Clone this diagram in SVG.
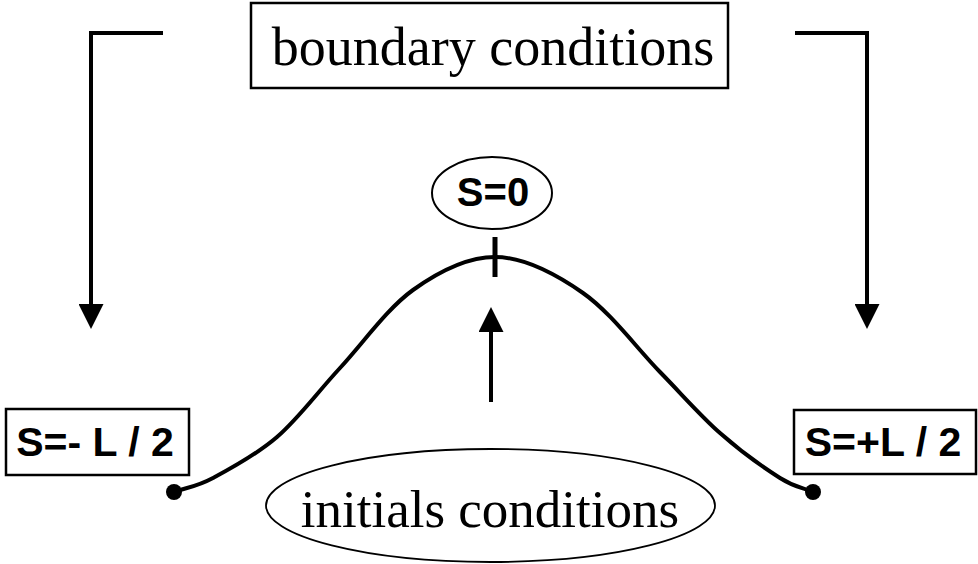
<svg xmlns="http://www.w3.org/2000/svg" width="978" height="564" viewBox="0 0 978 564">
  <style>
    .serif { font-family: "Liberation Serif", "Times New Roman", serif; fill: #000; }
    .sans { font-family: "Liberation Sans", Arial, sans-serif; font-weight: bold; fill: #000; }
    .box { fill: #fff; stroke: #000; stroke-width: 2.5; }
    .line { fill: none; stroke: #000; stroke-width: 4; }
  </style>
  <defs>
    <marker id="arrow" viewBox="0 0 25 25" refX="0" refY="12.5" markerWidth="25" markerHeight="25" markerUnits="userSpaceOnUse" orient="auto">
      <path d="M0,0 L25,12.5 L0,25 Z" fill="#000"/>
    </marker>
  </defs>

  <g id="connectors">
    <path class="line" d="M163,33 L91,33 L91,304" marker-end="url(#arrow)" stroke-linejoin="miter"/>
    <path class="line" d="M795,33 L867,33 L867,304" marker-end="url(#arrow)" stroke-linejoin="miter"/>
    <path class="line" d="M491,402 L491,332" marker-end="url(#arrow)"/>
  </g>

  <g id="curve">
    <path class="line" stroke-linejoin="round" d="M174,492 C187,487.3 195.8,487.2 213,478 C230.2,468.8 255.8,455.3 277,437 C298.2,418.7 317.3,392.5 340,368 C362.7,343.5 387.2,308.5 413,290 C438.8,271.5 467,257 495,257 C523,257 555.5,273.8 583,293 C610.5,312.2 637.2,348.7 660,372 C682.8,395.3 700,415.3 720,433 C740,450.7 764.5,468.2 780,478 C795.5,487.8 802,487.3 813,492"/>
    <line x1="495" y1="237" x2="495" y2="277" stroke="#000" stroke-width="5"/>
    <circle cx="174" cy="492" r="8" fill="#000"/>
    <circle cx="813" cy="492" r="8" fill="#000"/>
  </g>

  <g id="boundary-conditions">
    <rect class="box" x="251" y="3" width="477" height="85"/>
    <text class="serif" x="493" y="65" font-size="54" text-anchor="middle">boundary conditions</text>
  </g>

  <g id="s-zero">
    <ellipse cx="492" cy="193" rx="60" ry="36" fill="#fff" stroke="#000" stroke-width="2"/>
    <text class="sans" x="493" y="206" font-size="40" text-anchor="middle">S=0</text>
  </g>

  <g id="s-minus">
    <rect class="box" x="6" y="409" width="183" height="66"/>
    <text class="sans" x="95" y="456" font-size="41" text-anchor="middle" xml:space="preserve">S=- L / 2</text>
  </g>

  <g id="s-plus">
    <rect class="box" x="794" y="410" width="182" height="64"/>
    <text class="sans" x="883" y="456" font-size="41" text-anchor="middle" xml:space="preserve">S=+L / 2</text>
  </g>

  <g id="initials-conditions">
    <ellipse cx="490.5" cy="505.5" rx="224.5" ry="56.5" fill="#fff" stroke="#000" stroke-width="1.8"/>
    <text class="serif" x="490" y="527" font-size="53" text-anchor="middle">initials conditions</text>
  </g>
</svg>
